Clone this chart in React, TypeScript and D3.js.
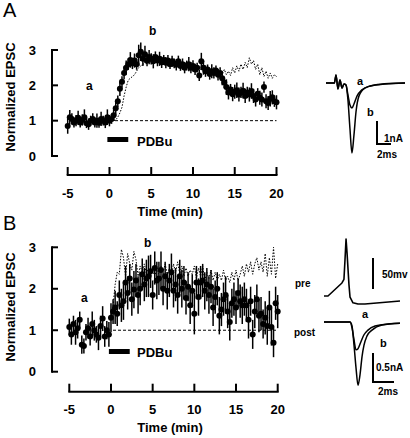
import React from 'react';
import * as d3 from 'd3';

// ---------- data ----------
const timeGrid = [-5,-4.75,-4.5,-4.25,-4,-3.75,-3.5,-3.25,-3,-2.75,-2.5,-2.25,-2,-1.75,-1.5,-1.25,-1,-0.75,-0.5,-0.25,
  0,0.25,0.5,0.75,1,1.25,1.5,1.75,2,2.25,2.5,2.75,3,3.25,3.5,3.75,4,4.25,4.5,4.75,
  5,5.25,5.5,5.75,6,6.25,6.5,6.75,7,7.25,7.5,7.75,8,8.25,8.5,8.75,9,9.25,9.5,9.75,
  10,10.25,10.5,10.75,11,11.25,11.5,11.75,12,12.25,12.5,12.75,13,13.25,13.5,13.75,14,14.25,14.5,14.75,
  15,15.25,15.5,15.75,16,16.25,16.5,16.75,17,17.25,17.5,17.75,18,18.25,18.5,18.75,19,19.25,19.5,19.75,20];

const meanA = [
  0.85,1.1,1.05,0.95, 1.0,1.08,0.95,1.02, 1.1,0.93,0.9,1.0, 1.05,0.95,1.0,0.94, 1.05,1.0,0.95,1.1,
  1.0,1.05,1.15,1.35, 1.55,1.9,2.1,2.35, 2.5,2.6,2.72,2.62, 2.7,2.6,2.85,2.95, 2.75,2.88,2.7,2.8,
  2.75,2.68,2.8,2.7, 2.75,2.65,2.72,2.64, 2.7,2.6,2.68,2.62, 2.58,2.68,2.55,2.6, 2.5,2.56,2.6,2.5,
  2.55,2.45,2.5,2.28, 2.68,2.5,2.4,2.45, 2.32,2.4,2.35,2.42, 2.3,2.35,2.2,2.08, 1.95,1.8,1.88,1.75,
  1.82,1.86,1.74,1.8, 1.85,1.7,1.8,1.74, 1.84,1.7,1.6,1.76, 1.65,1.6,1.95,1.55, 1.5,1.62,1.66,1.55,
  1.52];
const errA = [
  0.22,0.2,0.16,0.14, 0.16,0.2,0.14,0.16, 0.22,0.14,0.16,0.14, 0.16,0.14,0.2,0.14, 0.2,0.14,0.16,0.22,
  0.16,0.14,0.16,0.18, 0.16,0.2,0.16,0.18, 0.2,0.16,0.22,0.16, 0.2,0.16,0.3,0.26, 0.2,0.24,0.16,0.2,
  0.16,0.2,0.16,0.16, 0.2,0.16,0.14,0.16, 0.16,0.14,0.16,0.14, 0.16,0.16,0.14,0.16, 0.16,0.14,0.2,0.16,
  0.16,0.16,0.14,0.16, 0.24,0.2,0.16,0.14, 0.16,0.2,0.16,0.14, 0.16,0.16,0.2,0.16, 0.22,0.2,0.16,0.2,
  0.2,0.22,0.2,0.16, 0.22,0.2,0.16,0.2, 0.22,0.2,0.2,0.16, 0.2,0.2,0.16,0.2, 0.2,0.22,0.2,0.16,
  0.2];
const dotTimeA = [0.5,0.75,1,1.25,1.5,1.75,2,2.25,2.5,2.75,3,
  3.5,4,4.5,5,5.5,6,6.5,7,7.5,8,8.5,9,9.5,10,10.5,11,11.5,12,12.5,13,
  13.25,13.5,13.75,14,14.25,14.5,14.75,15,15.25,15.5,15.75,16,16.25,16.5,16.75,17,17.25,17.5,17.75,18,18.25,18.5,18.75,19,19.25,19.5,19.75,20];
const dotValA = [1.0,1.02,1.1,1.22,1.38,1.7,1.95,2.15,2.2,2.25,2.3,
  2.5,2.6,2.62,2.7,2.68,2.66,2.64,2.62,2.6,2.6,2.55,2.52,2.5,2.5,2.45,2.45,2.4,2.38,2.35,2.32,
  2.4,2.3,2.45,2.3,2.4,2.28,2.5,2.35,2.55,2.4,2.6,2.45,2.65,2.5,2.78,2.6,2.7,2.45,2.6,2.3,2.5,2.25,2.4,2.2,2.35,2.2,2.3,2.25];

const meanB = [
  1.08,0.9,1.15,0.95, 1.05,1.25,0.65,0.62, 0.95,1.05,0.85,1.15, 1.0,0.9,0.82,1.1, 1.28,0.85,1.0,0.9,
  1.3,1.45,1.55,1.4, 1.85,1.6,1.7,2.15, 1.9,2.25,1.75,1.98, 2.2,1.85,2.0,2.35, 2.1,2.25,2.3,2.42,
  1.85,2.5,2.2,2.25, 2.45,2.0,2.3,1.95, 2.2,2.4,1.95,2.1, 1.85,2.3,2.0,2.15, 1.78,2.05,1.6,1.95,
  1.4,2.15,1.8,2.15, 2.2,1.95,2.1,1.85, 2.05,1.55,1.8,2.0, 1.35,1.5,1.75,1.85, 1.45,1.2,1.65,1.75,
  1.55,1.9,1.7,1.6, 1.75,1.6,1.25,1.7, 0.9,1.45,1.75,1.35, 1.4,1.15,1.3,1.1, 1.55,1.08,0.7,1.65,
  1.45];
const errB = [
  0.2,0.25,0.2,0.3, 0.25,0.2,0.22,0.18, 0.2,0.25,0.22,0.3, 0.25,0.2,0.3,0.25, 0.3,0.25,0.22,0.3,
  0.35,0.3,0.4,0.3, 0.35,0.4,0.45,0.4, 0.4,0.35,0.4,0.45, 0.4,0.45,0.4,0.38, 0.4,0.45,0.5,0.4,
  0.35,0.4,0.45,0.4, 0.45,0.4,0.35,0.45, 0.4,0.45,0.4,0.4, 0.45,0.4,0.45,0.4, 0.4,0.35,0.45,0.4,
  0.5,0.4,0.45,0.4, 0.4,0.45,0.4,0.45, 0.4,0.45,0.4,0.4, 0.45,0.4,0.4,0.45, 0.4,0.45,0.35,0.4,
  0.4,0.35,0.4,0.45, 0.4,0.4,0.45,0.35, 0.35,0.4,0.35,0.4, 0.4,0.35,0.4,0.45, 0.4,0.45,0.35,0.4,
  0.4];
const dotValB = [
  1.3,1.6,2.1,2.4, 2.35,2.95,2.75,2.3, 2.85,2.6,2.45,2.9, 2.7,2.3,2.55,2.4, 2.6,2.35,2.5,2.3,
  2.45,2.3,2.5,2.35, 2.55,2.4,2.6,2.35, 2.5,2.3,2.6,2.4, 2.65,2.35,2.55,2.3, 2.5,2.3,2.45,2.35,
  2.55,2.25,2.5,2.3, 2.55,2.2,2.4,2.25, 2.45,2.2,2.4,2.2, 2.35,2.2,2.45,2.2, 2.3,2.15,2.4,2.2,
  2.45,2.2,2.35,2.55, 2.3,2.6,2.4,2.65, 2.35,2.6,2.75,2.45, 2.65,2.4,2.85,2.3, 2.75,2.35,3.0,2.25,
  2.6];

const yTicks = [0, 1, 2, 3];
const xTicks = [-5, 0, 5, 10, 15, 20];
const pdbuRange = [-0.25, 2.25];

// inset A traces: [ms, nA]
const insetA_a: [number, number][] = [[0,0],[1.2,0],[1.43,0.35],[1.71,-0.26],[2.0,0.13],[2.29,-0.22],[2.57,-0.04],[2.86,-0.09],
  [3.14,-0.52],[3.43,-0.96],[3.71,-1.09],[4.0,-0.91],[4.43,-0.57],[5.14,-0.3],[6.29,-0.13],[8.43,-0.04],[11.3,0]];
const insetA_b: [number, number][] = [[0,0],[1.2,0],[1.43,0.35],[1.71,-0.26],[2.0,0.13],[2.29,-0.22],[2.57,-0.04],[2.86,-0.09],
  [3.14,-0.74],[3.43,-2.0],[3.71,-3.04],[4.0,-2.26],[4.29,-1.26],[4.71,-0.57],[5.57,-0.22],[7,-0.09],[9.1,-0.02],[11.3,0]];
// inset B traces
const insetB_pre: [number, number][] = [[0,0],[0.38,0],[1.71,21],[1.9,27],[2.0,58],[2.1,92],[2.19,71],[2.38,18],[2.48,-2],
  [2.76,-11],[3.24,-13],[3.9,-13],[7.24,-8]];
const insetB_b: [number, number][] = [[0,0],[2.48,0],[2.67,-0.07],[2.86,-0.4],[3.05,-0.79],[3.24,-1.09],[3.43,-0.91],[3.62,-0.6],
  [3.81,-0.4],[4.1,-0.24],[4.57,-0.14],[5.52,-0.05],[7.24,-0.02]];
const insetB_a: [number, number][] = [[0,0],[2.48,0],[2.67,-0.1],[2.86,-0.31],[3.05,-0.48],[3.24,-0.46],[3.52,-0.34],[3.81,-0.22],
  [4.19,-0.14],[4.86,-0.07],[6.29,-0.03],[7.24,-0.02]];

const FONT = "'Liberation Sans', Arial, Helvetica, sans-serif";

type PanelProps = {
  letter: string; letterY: number;
  x0: number; x1: number; yTop: number; yBot: number;
  axisY: number; tickLabelY: number; timeY: number; ylabelCY: number;
  mean: number[]; err: number[]; dotT: number[]; dotV: number[];
  r: number; barY: number; textAY: [number, number]; textBY: [number, number]; pdbuTextY: number;
  dashStartX: number;
};

function Panel(p: PanelProps) {
  const x = d3.scaleLinear().domain([-5, 20]).range([p.x0, p.x1]);
  const y = d3.scaleLinear().domain([0, 3]).range([p.yBot, p.yTop]);
  const dotLine = d3.line<number>().x((_, i) => x(p.dotT[i])).y((v) => y(v));
  const axX = 52;
  return (
    <g>
      <text x={3} y={p.letterY} fontSize={20} fontFamily={FONT}>{p.letter}</text>
      <line x1={axX} x2={axX} y1={y(0) + 1} y2={y(3) - 1} stroke="#000" strokeWidth={2} />
      {yTicks.map((t) => (
        <g key={t}>
          <line x1={axX} x2={axX + 6} y1={y(t)} y2={y(t)} stroke="#000" strokeWidth={2} />
          <text x={36} y={y(t)} dy="0.36em" textAnchor="end" fontSize={13} fontWeight="bold" fontFamily={FONT}>{t}</text>
        </g>
      ))}
      <text transform={`translate(15,${p.ylabelCY}) rotate(-90)`} textAnchor="middle" fontSize={13} fontWeight="bold" fontFamily={FONT}>Normalized EPSC</text>
      <line x1={x(-5) - 1} x2={x(20) + 1} y1={p.axisY} y2={p.axisY} stroke="#000" strokeWidth={2} />
      {xTicks.map((t) => (
        <g key={t}>
          <line x1={x(t)} x2={x(t)} y1={p.axisY} y2={p.axisY - 8} stroke="#000" strokeWidth={2} />
          <text x={x(t)} y={p.tickLabelY} textAnchor="middle" fontSize={13} fontWeight="bold" fontFamily={FONT}>{t}</text>
        </g>
      ))}
      <text x={170} y={p.timeY} textAnchor="middle" fontSize={13} fontWeight="bold" fontFamily={FONT}>Time (min)</text>
      <line x1={p.dashStartX} x2={x(20)} y1={y(1)} y2={y(1)} stroke="#000" strokeWidth={1} strokeDasharray="3,2" />
      <path d={dotLine(p.dotV) || ''} fill="none" stroke="#000" strokeWidth={1} strokeDasharray="1.5,1.5" />
      {p.mean.map((m, i) => (
        <line key={'e' + i} x1={x(timeGrid[i])} x2={x(timeGrid[i])} y1={y(m - p.err[i])} y2={y(m + p.err[i])} stroke="#000" strokeWidth={1.5} />
      ))}
      {p.mean.map((m, i) => (
        <circle key={'c' + i} cx={x(timeGrid[i])} cy={y(m)} r={p.r} fill="#000" />
      ))}
      <rect x={x(pdbuRange[0])} y={p.barY} width={x(pdbuRange[1]) - x(pdbuRange[0])} height={5} fill="#000" />
      <text x={137} y={p.pdbuTextY} fontSize={13} fontWeight="bold" fontFamily={FONT}>PDBu</text>
      <text x={p.textAY[0]} y={p.textAY[1]} fontSize={12} fontWeight="bold" fontFamily={FONT}>a</text>
      <text x={p.textBY[0]} y={p.textBY[1]} fontSize={12} fontWeight="bold" fontFamily={FONT}>b</text>
    </g>
  );
}

function InsetA() {
  const t = d3.scaleLinear().domain([0, 11.3]).range([326, 405]);
  const i = d3.scaleLinear().domain([0, -3.04]).range([83, 153]);
  const line = d3.line<[number, number]>().x((d) => t(d[0])).y((d) => i(d[1])).curve(d3.curveMonotoneX);
  const sbX = 377, sbY = 144;
  const nA = i(-1) - i(0);
  const ms2 = t(2) - t(0);
  return (
    <g>
      <path d={line(insetA_a) || ''} fill="none" stroke="#000" strokeWidth={1.5} />
      <path d={line(insetA_b) || ''} fill="none" stroke="#000" strokeWidth={1.5} />
      <line x1={sbX} x2={sbX} y1={sbY - nA} y2={sbY} stroke="#000" strokeWidth={2} />
      <line x1={sbX - 1} x2={sbX + ms2} y1={sbY} y2={sbY} stroke="#000" strokeWidth={2} />
      <text x={357} y={85} fontSize={11} fontWeight="bold" fontFamily={FONT}>a</text>
      <text x={367} y={116} fontSize={11} fontWeight="bold" fontFamily={FONT}>b</text>
      <text x={384} y={142} fontSize={10} fontWeight="bold" fontFamily={FONT}>1nA</text>
      <text x={377} y={158} fontSize={10} fontWeight="bold" fontFamily={FONT}>2ms</text>
    </g>
  );
}

function InsetB() {
  const t = d3.scaleLinear().domain([0, 7.24]).range([324, 400]);
  const v = d3.scaleLinear().domain([0, 50]).range([296, 265]);
  const i = d3.scaleLinear().domain([0, -0.5]).range([322, 351]);
  const preLine = d3.line<[number, number]>().x((d) => t(d[0])).y((d) => v(d[1]));
  const postLine = d3.line<[number, number]>().x((d) => t(d[0])).y((d) => i(d[1])).curve(d3.curveMonotoneX);
  const mv50 = v(0) - v(50);
  const nA05 = i(-0.5) - i(0);
  const ms2 = t(2) - t(0);
  return (
    <g>
      <path d={preLine(insetB_pre) || ''} fill="none" stroke="#000" strokeWidth={1.6} strokeLinejoin="round" />
      <line x1={373} x2={373} y1={289 - mv50} y2={289} stroke="#000" strokeWidth={2} />
      <text x={295} y={287} fontSize={10} fontWeight="bold" fontFamily={FONT}>pre</text>
      <text x={382} y={278} fontSize={10} fontWeight="bold" fontFamily={FONT}>50mv</text>
      <path d={postLine(insetB_a) || ''} fill="none" stroke="#000" strokeWidth={1.5} />
      <path d={postLine(insetB_b) || ''} fill="none" stroke="#000" strokeWidth={1.5} />
      <line x1={373} x2={373} y1={382 - nA05} y2={382} stroke="#000" strokeWidth={2} />
      <line x1={372} x2={373 + ms2} y1={382} y2={382} stroke="#000" strokeWidth={2} />
      <text x={294} y={336} fontSize={10} fontWeight="bold" fontFamily={FONT}>post</text>
      <text x={362} y={318} fontSize={11} fontWeight="bold" fontFamily={FONT}>a</text>
      <text x={380} y={347} fontSize={11} fontWeight="bold" fontFamily={FONT}>b</text>
      <text x={376} y={371} fontSize={10} fontWeight="bold" fontFamily={FONT}>0.5nA</text>
      <text x={378} y={395} fontSize={10} fontWeight="bold" fontFamily={FONT}>2ms</text>
    </g>
  );
}

export default function App() {
  const dotTimeB = timeGrid.filter((t) => t >= 0);
  return (
    <svg width={410} height={438} style={{ position: 'absolute', left: 0, top: 0, background: '#fff' }}>
      <rect width={410} height={438} fill="#fff" />
      <Panel letter="A" letterY={17} x0={67.7} x1={276.5} yTop={50} yBot={156}
        axisY={175} tickLabelY={198} timeY={216} ylabelCY={97}
        mean={meanA} err={errA} dotT={dotTimeA} dotV={dotValA} r={3} barY={137}
        textAY={[86, 90]} textBY={[149, 35]} pdbuTextY={146} dashStartX={115} />
      <Panel letter="B" letterY={230} x0={69.3} x1={277.7} yTop={247.3} yBot={371.7}
        axisY={391.7} tickLabelY={414} timeY={432} ylabelCY={307}
        mean={meanB} err={errB} dotT={dotTimeB} dotV={dotValB} r={3} barY={349}
        textAY={[81, 302]} textBY={[144, 247]} pdbuTextY={357} dashStartX={113} />
      <InsetA />
      <InsetB />
    </svg>
  );
}
